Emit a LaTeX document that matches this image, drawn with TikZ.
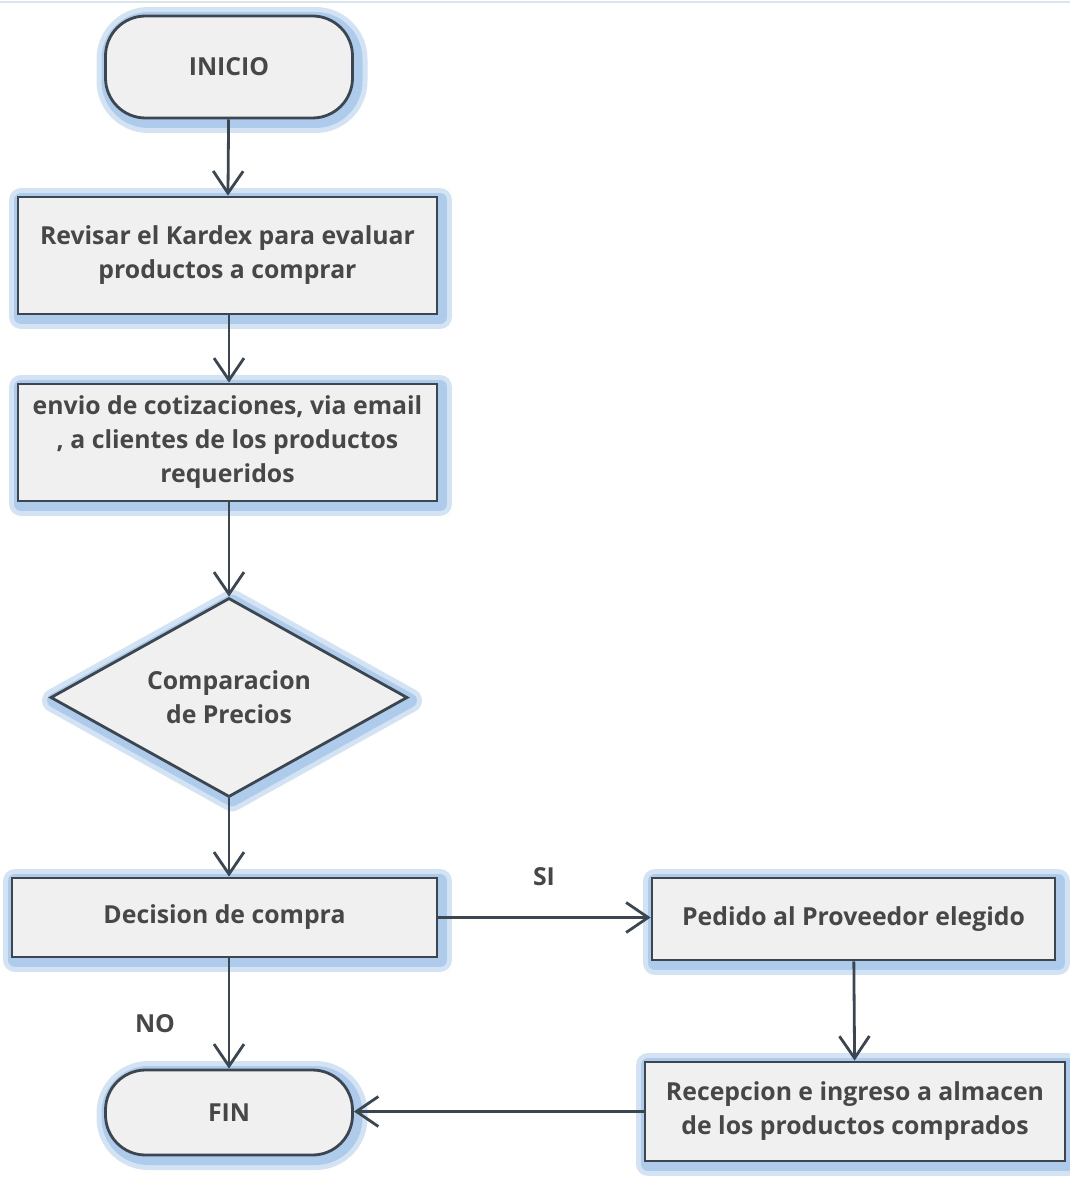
\documentclass[tikz,border=0pt]{standalone}
\usepackage{fontspec}
\setmainfont{Open Sans}
\usetikzlibrary{shapes.geometric,arrows.meta}

\definecolor{edge}{HTML}{3C4650}
\definecolor{boxfill}{HTML}{F0F0F0}
\definecolor{ink}{HTML}{474747}
\definecolor{glowout}{HTML}{D3E3F4}
\definecolor{glowin}{HTML}{AECBEB}
\definecolor{rule}{HTML}{DCE4EC}

\tikzset{
  x=1pt, y=-1pt,
  halo/.style={
    preaction={draw=glowout, line width=24pt, line join=round,
      transform canvas={xshift=3pt,yshift=-3pt}},
    preaction={draw=glowin, line width=14pt, line join=round,
      transform canvas={xshift=3pt,yshift=-3pt}}},
  base/.style={halo, draw=edge, line width=2.8pt, fill=boxfill, text=ink,
    font=\bfseries\fontsize{24.8}{34}\selectfont, align=center, inner sep=0pt},
  procbox/.style={base, rectangle, minimum width=#1},
  terminal/.style={base, rectangle, rounded corners=40pt, minimum width=247pt},
  decision/.style={base, diamond, shape aspect=1.8, minimum width=357pt, minimum height=199pt},
  flow/.style={draw=edge, line width=2.8pt,
    -{Straight Barb[length=22pt,width=30pt,line width=2.8pt]}},
  tag/.style={text=ink, font=\bfseries\fontsize{24.8}{30}\selectfont}
}

\begin{document}
\begin{tikzpicture}
  \useasboundingbox (0,0) rectangle (1070,1177);
  \fill[white] (0,0) rectangle (1070,1177);
  \draw[rule, line width=1.5pt] (0,2) -- (1070,2);

  % main column
  \node[terminal, minimum height=102pt] (inicio) at (229,67) {INICIO};
  \node[procbox=419pt, minimum height=117pt] (kardex) at (227.5,255.5)
    {Revisar el Kardex para evaluar\\productos a comprar};
  \node[procbox=419pt, minimum height=117pt] (envio) at (227.5,442.5)
    {envio de cotizaciones, via email\\, a clientes de los productos\\requeridos};
  \node[decision] (comp) at (229,697.5) {Comparacion\\de Precios};
  \node[procbox=425pt, minimum height=79pt] (decide) at (224.5,917.5) {Decision de compra};
  \node[terminal, minimum height=85pt] (fin) at (229,1112.5) {FIN};

  % right column
  \node[procbox=403pt, minimum height=82pt] (pedido) at (853.5,919) {Pedido al Proveedor elegido};
  \node[procbox=420pt, minimum height=99pt] (recep) at (855,1111.5)
    {Recepcion e ingreso a almacen\\de los productos comprados};

  % connectors
  \draw[flow] (inicio) -- (kardex);
  \draw[flow] (kardex.south -| inicio) -- (envio.north -| inicio);
  \draw[flow] (envio.south -| inicio) -- (comp);
  \draw[flow] (comp) -- (decide.north -| comp);
  \draw[flow] (decide.east) -- (decide.east -| pedido.west);
  \draw[flow] (decide.south -| fin) -- (fin);
  \draw[flow] (pedido) -- (recep);
  \draw[flow] (recep.west) -- (fin.east |- recep.west);

  % branch labels
  \node[tag] (si) at (544,877) {SI};
  \node[tag] (no) at (155,1024) {NO};
\end{tikzpicture}
\end{document}
